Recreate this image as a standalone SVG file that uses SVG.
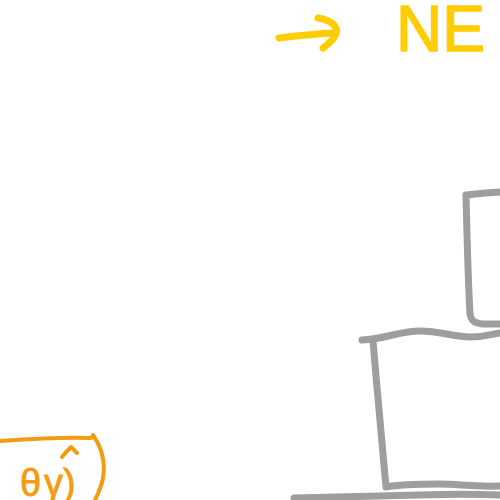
<svg xmlns="http://www.w3.org/2000/svg" width="500" height="500" viewBox="0 0 500 500">
<style>
.g{fill:none;stroke:#9e9e9e;stroke-width:7;stroke-linecap:round;stroke-linejoin:round}
.y{fill:none;stroke:#ffcc00;stroke-width:7;stroke-linecap:round;stroke-linejoin:round}
.o{fill:none;stroke:#f39c12;stroke-width:4;stroke-linecap:round;stroke-linejoin:round}
.ty{font-family:"Liberation Sans",Arial,sans-serif;fill:#ffcc00;stroke:#ffcc00;stroke-width:1.5;stroke-linejoin:round}
.to{font-family:"Liberation Sans",Arial,sans-serif;fill:#f39c12;stroke:#f39c12;stroke-width:0.8}
</style>
<rect width="500" height="500" fill="#ffffff"/>
<g id="heading">
<path class="y" d="M279,38 C295,36 315,34 334,33 M318,18 C330,20 339,26 336,34 C334,40 328,44 323,48"/>
<text class="ty" x="396" y="51" font-size="64">NE</text>
</g>
<g id="box-top">
<path class="g" d="M500,192 C485,193 475,194 466,195 C467,235 468,280 470,314 C471,321 475,323 482,324 L500,324"/>
</g>
<g id="box-middle">
<path class="g" d="M362,340 C385,339 400,331 420,331 C440,331 450,336 470,337 C485,337 492,334 500,333 M373,341 C377,390 382,440 386,487 C400,484 420,484 440,484 C460,484 470,487 500,486"/>
</g>
<g id="box-bottom">
<path class="g" d="M294,498 C340,497 380,496 420,495 C450,494 475,494 500,495"/>
</g>
<g id="bubble">
<path class="o" d="M0,441 C30,439 60,437 90,438 C93,437 94,436 93,435 C100,445 106,460 103,478 C101,488 98,494 95,500"/>
<path class="o" d="M62,457 C66,452 69,449 71,447 C73,449 75,451 77,453"/>
<text class="to" font-size="38" y="496"><tspan x="-8">ı</tspan><tspan x="20">θ</tspan><tspan x="44">γ</tspan><tspan x="63">)</tspan></text>
</g>
</svg>
